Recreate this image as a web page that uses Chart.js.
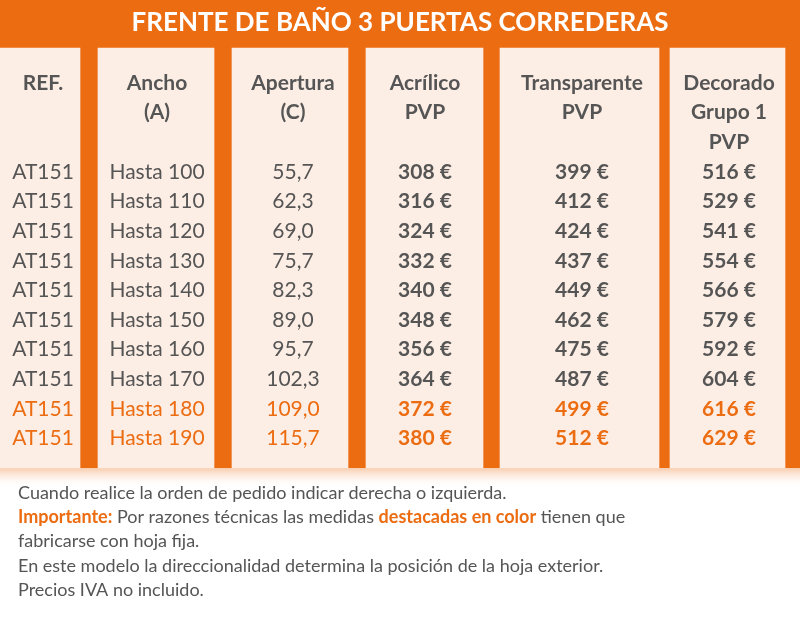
<!DOCTYPE html>
<html><head><meta charset="utf-8">
<script src="https://cdn.jsdelivr.net/npm/chart.js@4.4.0/dist/chart.umd.min.js"></script>
<style>html,body{margin:0;padding:0;background:#fff}#w{width:800px;height:630px}</style>
</head><body><div id="w"><canvas id="c"></canvas></div>
<script>
const title = "FRENTE DE BAÑO 3 PUERTAS CORREDERAS";
const headers = [["REF."],["Ancho","(A)"],["Apertura","(C)"],["Acrílico","PVP"],["Transparente","PVP"],["Decorado","Grupo 1","PVP"]];
const refs = ["AT151","AT151","AT151","AT151","AT151","AT151","AT151","AT151","AT151","AT151"];
const anchos = ["Hasta 100","Hasta 110","Hasta 120","Hasta 130","Hasta 140","Hasta 150","Hasta 160","Hasta 170","Hasta 180","Hasta 190"];
const apertura = ["55,7","62,3","69,0","75,7","82,3","89,0","95,7","102,3","109,0","115,7"];
const acrilico = [308,316,324,332,340,348,356,364,372,380];
const transparente = [399,412,424,437,449,462,475,487,499,512];
const decorado = [516,529,541,554,566,579,592,604,616,629];
const highlighted = [false,false,false,false,false,false,false,false,true,true];
const notes = [
 [["Cuando realice la orden de pedido indicar derecha o izquierda.",0]],
 [["Importante:",1],[" Por razones técnicas las medidas ",0],["destacadas en color",1],[" tienen que",0]],
 [["fabricarse con hoja fija.",0]],
 [["En este modelo la direccionalidad determina la posición de la hoja exterior.",0]],
 [["Precios IVA no incluido.",0]]
];

const L = { panels:[[0,80],[98,214],[232,348],[366,483],[500,659],[670,785]],
  textX:[43,157,293,425,582,729], panelTop:48, panelBot:468, headTop:83, headStep:29.5,
  rowTop:172, rowStep:29.6, noteY:493, noteStep:24.3, orange:"#ec6c12", peach:"#fdeee5", grey:"#555",
  font:"Lato" };

const ds = L.panels.map(p=>({data:[{x:(p[0]+p[1])/2,y:[L.panelTop,L.panelBot]}],
  backgroundColor:L.peach, barThickness:p[1]-p[0], grouped:false}));

const fmt = v => v + " €";
const plug = {id:"tbl",
 beforeDatasetsDraw(ch){const {ctx,scales:{x,y}}=ch;ctx.save();
  const x0=x.getPixelForValue(0),x1=x.getPixelForValue(800);
  const g=ctx.createLinearGradient(0,y.getPixelForValue(468),0,y.getPixelForValue(488));
  g.addColorStop(0,"rgba(236,108,18,0.35)");g.addColorStop(1,"rgba(255,255,255,0)");
  ctx.fillStyle=g;ctx.fillRect(x0,y.getPixelForValue(468),x1-x0,y.getPixelForValue(488)-y.getPixelForValue(468));
  ctx.fillStyle=L.orange;
  ctx.fillRect(x0,y.getPixelForValue(0),x1-x0,y.getPixelForValue(468)-y.getPixelForValue(0));
  ctx.restore();},
 afterDatasetsDraw(ch){const {ctx,scales:{x,y}}=ch;ctx.save();
  ctx.textAlign="center";ctx.textBaseline="middle";
  ctx.fillStyle="#fff";ctx.font="bold 26px "+L.font;
  ctx.fillText(title,x.getPixelForValue(400),y.getPixelForValue(23));
  ctx.fillStyle=L.grey;ctx.font="bold 21px "+L.font;
  headers.forEach((h,c)=>h.forEach((t,i)=>ctx.fillText(t,x.getPixelForValue(L.textX[c]),y.getPixelForValue(L.headTop+i*L.headStep))));
  const cols=[refs,anchos,apertura,acrilico.map(fmt),transparente.map(fmt),decorado.map(fmt)];
  cols.forEach((col,c)=>col.forEach((t,r)=>{
   ctx.fillStyle=highlighted[r]?L.orange:L.grey;
   ctx.font=(c>=3?"bold ":"")+"21px "+L.font;
   ctx.fillText(t,x.getPixelForValue(L.textX[c]),y.getPixelForValue(L.rowTop+r*L.rowStep));}));
  ctx.textAlign="left";
  notes.forEach((ln,i)=>{let px=x.getPixelForValue(18);const py=y.getPixelForValue(L.noteY+i*L.noteStep);
   ln.forEach(([t,b])=>{ctx.font=(b?"bold ":"")+"18px "+L.font;ctx.fillStyle=b?L.orange:L.grey;ctx.fillText(t,px,py);px+=ctx.measureText(t).width;});});
  ctx.restore();}};

new Chart(document.getElementById("c"),{type:"bar",data:{datasets:ds},plugins:[plug],
 options:{responsive:true,maintainAspectRatio:false,animation:false,layout:{padding:0},
  plugins:{legend:{display:false},tooltip:{enabled:false}},
  scales:{x:{type:"linear",min:0,max:800,offset:false,display:false},y:{type:"linear",min:0,max:630,reverse:true,display:false}}}});
</script></body></html>
